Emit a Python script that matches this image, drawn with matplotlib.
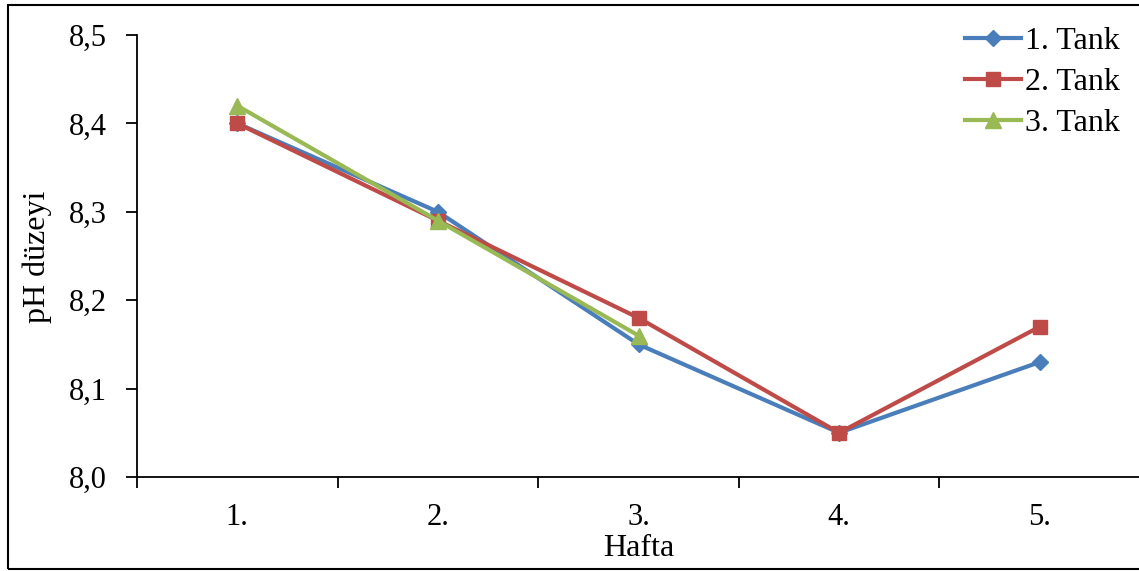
import numpy as np
import matplotlib
matplotlib.use('Agg')
from matplotlib import pyplot as plt
from matplotlib.patches import Rectangle

weeks = ['1.', '2.', '3.', '4.', '5.']
tank1 = [8.40, 8.30, 8.15, 8.05, 8.13]
tank2 = [8.40, 8.29, 8.18, 8.05, 8.17]
tank3 = [8.42, 8.29, 8.16]
yticks = [8.0, 8.1, 8.2, 8.3, 8.4, 8.5]

plt.rcParams['font.family'] = ['Liberation Serif', 'DejaVu Serif']

W, H = 1139, 571
fig = plt.figure(figsize=(W / 100, H / 100), dpi=100)
ax = fig.add_axes([137 / W, (H - 477) / H, (1140 - 137) / W, (477 - 35) / H])

x = np.arange(len(weeks))
ax.plot(x, tank1, color='#4A7EBB', lw=3, marker='D', ms=8, label='1. Tank')
ax.plot(x, tank2, color='#BE4B48', lw=3, marker='s', ms=10, label='2. Tank')
ax.plot(x[:len(tank3)], tank3, color='#98B954', lw=3, marker='^', ms=11, label='3. Tank')

ax.set_xlim(-0.5, len(weeks) - 0.5)
ax.set_ylim(8.0, 8.5)
ax.set_yticks(yticks)
ax.set_yticklabels([('%.1f' % v).replace('.', ',') for v in yticks], fontsize=22)
ax.set_xticks(x)
ax.set_xticklabels(weeks, fontsize=22)
ax.set_xticks(np.arange(-0.5, len(weeks)), minor=True)
ax.tick_params(axis='x', which='major', length=0, pad=19)
ax.tick_params(axis='x', which='minor', length=8, width=1.3, direction='out')
ax.tick_params(axis='y', length=8, width=1.3, direction='out', pad=14)

for s in ['top', 'right']:
    ax.spines[s].set_visible(False)
for s in ['left', 'bottom']:
    ax.spines[s].set_linewidth(1.3)

fig.text(37 / W, 1 - 257 / H, 'pH düzeyi', rotation=90, fontsize=23,
         ha='center', va='center')
fig.text(639 / W, 1 - 549 / H, 'Hafta', fontsize=23, ha='center', va='center')

ax.legend(loc='upper left', bbox_to_anchor=(965 / W, 1 - 27 / H),
          bbox_transform=fig.transFigure, frameon=False, fontsize=23,
          handlelength=1.75, handletextpad=0.13, labelspacing=0.36,
          borderaxespad=0, borderpad=0)

fig.patches.append(Rectangle((8 / W, 2 / H), 1.2, 1 - 7 / H, transform=fig.transFigure,
                             fill=False, edgecolor='black', lw=1.5))

fig.savefig('out.png', dpi=100)
